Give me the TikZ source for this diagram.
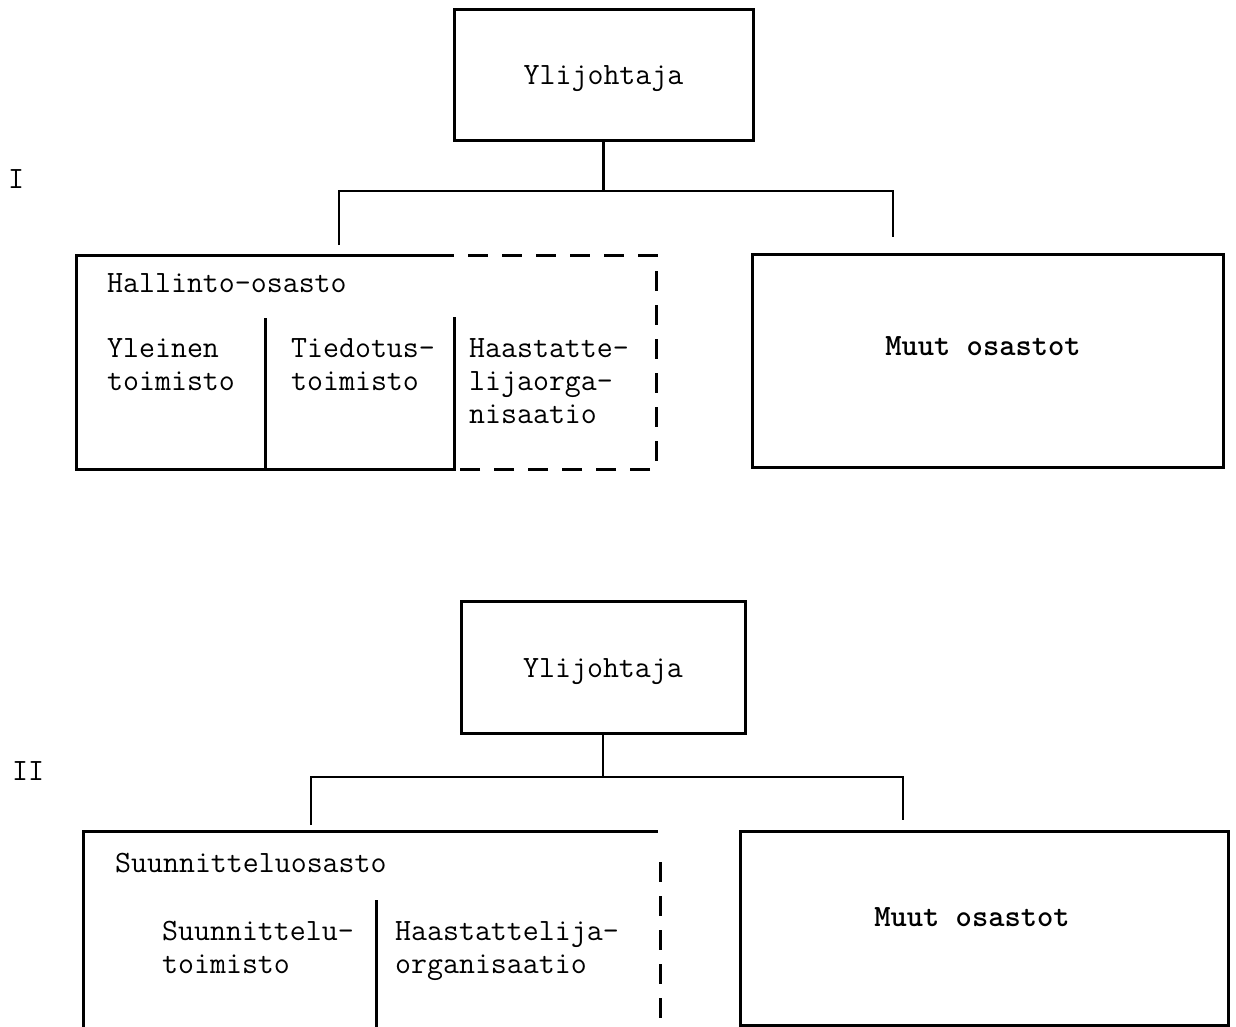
\documentclass[tikz,border=0pt]{standalone}
\usepackage{tikz}
\usetikzlibrary{positioning, calc}

\newcommand{\orgfont}{\fontsize{31}{33}\selectfont\ttfamily}

\begin{document}
\begin{tikzpicture}[x=1pt, y=-1pt,
        box/.style={draw, line width=3pt, rectangle, inner sep=0pt},
        edge/.style={line width=3pt},
        edgedash/.style={line width=3pt, dash pattern=on 20pt off 14pt, dash phase=20pt},
        link/.style={line width=2.4pt},
        txt/.style={font=\orgfont, inner sep=0pt, text height=21pt},
        cell/.style={font=\orgfont, inner sep=0pt, align=left, anchor=north west}]
    \useasboundingbox (0,0) rectangle (1236,1027);
    % Level labels
    \node (levelI) [txt] at (16,178) {I};
    \node (levelII) [txt] at (28,770) {II};
    % I: Ylijohtaja
    \node (ylj1) [box, txt, minimum width=299pt, minimum height=131pt, text depth=2pt] at (603.5,75.5) {Ylijohtaja};
    \node (muut1) [box, txt, font=\orgfont\bfseries, minimum width=471pt, minimum height=213pt, text depth=32pt] at (987.5,360.5) {Muut osastot\kern9pt};
    % I: Hallinto-osasto
    \draw[edge] (454,317) -- (454,469) -- (76,469) -- (76,255) -- (454,255);
    \draw[edgedash] (454,255) -- (656,255) -- (656,469) -- (454,469);
    \draw[edge] (265,318) -- (265,469);
    \node (hall) [txt, anchor=base west] at (107,292) {Hallinto-osasto};
    \node (yleinen) [cell] at (107,338) {Yleinen\\toimisto};
    \node (tiedotus) [cell] at (291,338) {Tiedotus-\\toimisto};
    \node (haast1) [cell] at (469,338) {Haastatte-\\lijaorga-\\nisaatio};
    % I: connectors
    \coordinate (fork1) at (ylj1.south |- 0,191);
    \coordinate (hallIn) at (339,245);
    \coordinate (muut1In) at (893,237);
    \draw[link] (ylj1.south) -- (fork1);
    \draw[link] (hallIn) |- (fork1) -| (muut1In);
    % II: Ylijohtaja
    \node (ylj2) [box, txt, minimum width=284pt, minimum height=132pt, text depth=1pt] at (603,667) {Ylijohtaja};
    \node (muut2) [box, txt, font=\orgfont\bfseries, minimum width=488pt, minimum height=194pt, text depth=25pt] at (984,928) {Muut osastot\kern24pt};
    % II: Suunnitteluosasto
    \draw[edge] (83,1030) -- (83,831) -- (658,831);
    \draw[edgedash] (660,848) -- (660,1030);
    \draw[edge] (376,900) -- (376,1030);
    \node (suun) [txt, anchor=base west] at (115,872) {Suunnitteluosasto};
    \node (suuntoim) [cell] at (162,921) {Suunnittelu-\\toimisto};
    \node (haast2) [cell] at (395,921) {Haastattelija-\\organisaatio};
    % II: connectors
    \coordinate (fork2) at (ylj2.south |- 0,777);
    \coordinate (suunIn) at (311,825);
    \coordinate (muut2In) at (903,820);
    \draw[link] (ylj2.south) -- (fork2);
    \draw[link] (suunIn) |- (fork2) -| (muut2In);
\end{tikzpicture}
\end{document}
